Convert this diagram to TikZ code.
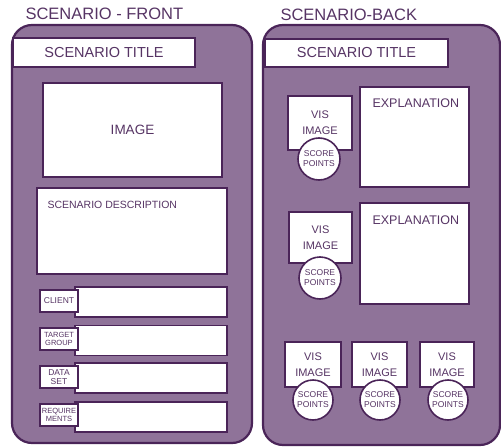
\documentclass[tikz,border=0pt]{standalone}
\usepackage{fontspec}
\setmainfont{Liberation Sans}
\usepackage{tikz}
\usetikzlibrary{positioning}
\definecolor{cardfill}{RGB}{143,115,153}
\definecolor{ink}{RGB}{74,36,88}
\definecolor{penc}{RGB}{86,52,100}
\tikzset{
  card/.style={draw=ink, line width=2.2pt, fill=cardfill, rounded corners=20pt, inner sep=0pt},
  box/.style={draw=ink, fill=white, line width=1.4pt, inner sep=0pt, text=penc},
  tag/.style={box, minimum width=38pt, minimum height=22pt, align=center, font=\fontsize{7.5}{8}\selectfont},
  row/.style={box, minimum width=152pt, minimum height=30pt},
  vis/.style={box, align=center, font=\fontsize{11}{16}\selectfont},
  pts/.style={circle, draw=ink, fill=white, line width=1.6pt, minimum size=42pt, inner sep=0pt,
    align=center, text=penc, font=\fontsize{8.5}{10}\selectfont},
  head/.style={anchor=west, text=penc, font=\fontsize{16.5}{18}\selectfont},
  ttl/.style={text=penc, font=\fontsize{14.5}{16}\selectfont},
  lbl/.style={text=penc, font=\fontsize{12.5}{14}\selectfont}
}
\begin{document}
\begin{tikzpicture}[x=1pt, y=-1pt]
        \useasboundingbox (0,0) rectangle (501,447);
        \node[head] (hf) at (22,14) {SCENARIO - FRONT};
        \node[head] (hb) at (277,15) {SCENARIO-BACK};
        \node[card, minimum width=240pt, minimum height=418pt] (front) at (132,234) {};
        \node[card, minimum width=237pt, minimum height=420pt] (back) at (381.5,235) {};

        \node[box, ttl, minimum width=182pt, minimum height=29pt] (tf) at (104,52.5) {SCENARIO TITLE};
        \node[box, lbl, font=\fontsize{13.5}{15}\selectfont, minimum width=179pt, minimum height=94pt] (img) at (132.5,130) {IMAGE};
        \node[box, minimum width=190pt, minimum height=86pt] (desc) at (132,231) {};
        \node[lbl, anchor=west, font=\fontsize{10.5}{12}\selectfont] (desct) at (44,205) {SCENARIO DESCRIPTION};

        \node[row] (r1) at (151,302) {};
        \node[row] (r2) at (151,340.5) {};
        \node[row] (r3) at (151,378) {};
        \node[row] (r4) at (151,417) {};
        \node[tag, font=\fontsize{8.5}{9}\selectfont] (t1) at (59,301) {CLIENT};
        \node[tag] (t2) at (59,339) {TARGET\\GROUP};
        \node[tag, font=\fontsize{8.5}{8.5}\selectfont] (t3) at (59,377) {DATA\\SET};
        \node[tag] (t4) at (59,415) {REQUIRE\\MENTS};

        \node[box, ttl, minimum width=183pt, minimum height=28pt] (tb) at (356.5,53) {SCENARIO TITLE};

        \node[box, minimum width=109pt, minimum height=100pt] (ex1) at (414.5,137) {};
        \node[lbl, anchor=west] (ex1t) at (369,103) {EXPLANATION};
        \node[vis, minimum width=64pt, minimum height=54pt] (v1) at (320,123) {VIS\\IMAGE};
        \node[pts] (p1) at (319,159) {SCORE\\POINTS};

        \node[box, minimum width=109pt, minimum height=101pt] (ex2) at (414.5,253.5) {};
        \node[lbl, anchor=west] (ex2t) at (369,220) {EXPLANATION};
        \node[vis, minimum width=63pt, minimum height=51pt] (v2) at (320.5,237.5) {VIS\\IMAGE};
        \node[pts] (p2) at (320,278) {SCORE\\POINTS};

        \node[vis, minimum width=56pt, minimum height=45pt] (v3) at (313,364.5) {VIS\\IMAGE};
        \node[vis, minimum width=55pt, minimum height=45pt] (v4) at (379.5,364.5) {VIS\\IMAGE};
        \node[vis, minimum width=54pt, minimum height=45pt] (v5) at (447,364.5) {VIS\\IMAGE};
        \node[pts, minimum size=40pt] (p3) at (313,400) {SCORE\\POINTS};
        \node[pts, minimum size=40pt] (p4) at (380,400) {SCORE\\POINTS};
        \node[pts, minimum size=40pt] (p5) at (448,400) {SCORE\\POINTS};
      \end{tikzpicture}
\end{document}
